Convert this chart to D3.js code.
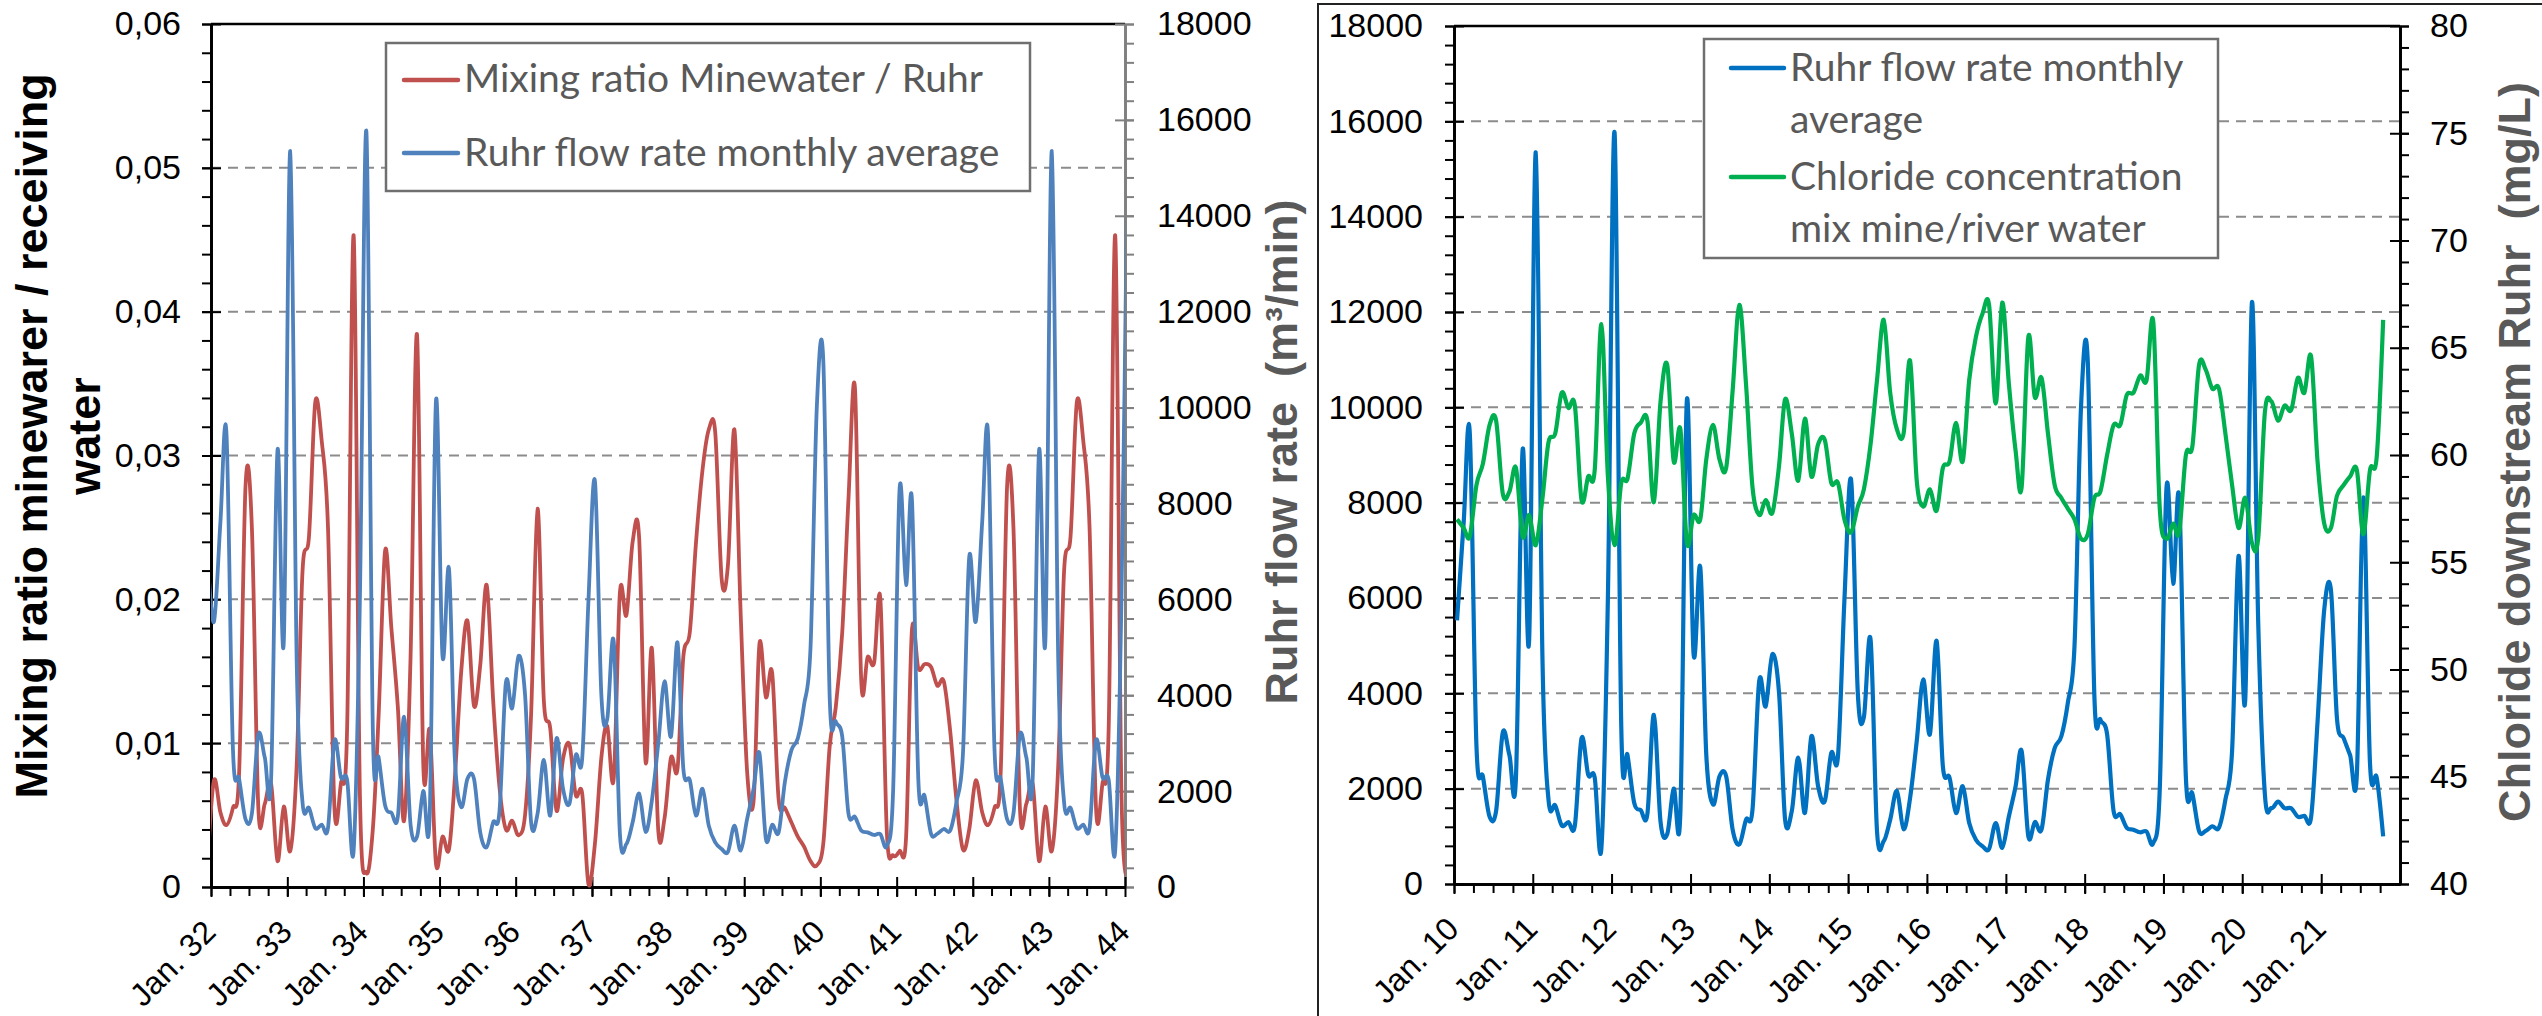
<!DOCTYPE html>
<html>
<head>
<meta charset="utf-8">
<title>Mixing ratio and chloride, Ruhr</title>
<script src="https://cdn.jsdelivr.net/npm/d3@7"></script>
<style>
  body { margin: 0; background: #fff; }
  svg { display: block; }
</style>
</head>
<body>
<div id="chart"></div>
<script>
// ---------------------------------------------------------------
// Data, one value per month
// ---------------------------------------------------------------

// left panel: Dec 2031 ... Jan 2044 (mid-month points, clipped to the axis)
const leftFirstMonth = [2031, 11];
const mixingRatio = [
  0.0015,
  0.0074, 0.0052, 0.0043, 0.0055, 0.0080, 0.0280, 0.0250, 0.0055, 0.0058, 0.0072, 0.0018, 0.0056,
  0.0025, 0.0085, 0.0220, 0.0244, 0.0337, 0.0310, 0.0250, 0.0055, 0.0072, 0.0112, 0.0453, 0.0065,
  0.0010, 0.0040, 0.0120, 0.0234, 0.0180, 0.0125, 0.0046, 0.0160, 0.0384, 0.0085, 0.0109, 0.0016,
  0.0035, 0.0026, 0.0075, 0.0150, 0.0185, 0.0126, 0.0154, 0.0210, 0.0130, 0.0070, 0.0040, 0.0046,
  0.0036, 0.0050, 0.0120, 0.0263, 0.0130, 0.0110, 0.0053, 0.0089, 0.0099, 0.0064, 0.0065, 0.0002,
  0.0030, 0.0090, 0.0112, 0.0075, 0.0205, 0.0189, 0.0240, 0.0243, 0.0087, 0.0166, 0.0039, 0.0048,
  0.0090, 0.0082, 0.0160, 0.0177, 0.0240, 0.0290, 0.0318, 0.0316, 0.0214, 0.0224, 0.0318, 0.0190,
  0.0080, 0.0060, 0.0169, 0.0132, 0.0149, 0.0061, 0.0055, 0.0045, 0.0035, 0.0028, 0.0018, 0.0015,
  0.0030, 0.0098, 0.0125, 0.0177, 0.0270, 0.0347, 0.0144, 0.0160, 0.0156, 0.0200, 0.0038, 0.0022,
  0.0025, 0.0034, 0.0178, 0.0152, 0.0155, 0.0153, 0.0140, 0.0143, 0.0108, 0.0060, 0.0026, 0.0040,
  0.0074, 0.0052, 0.0043, 0.0055, 0.0080, 0.0280, 0.0250, 0.0055, 0.0058, 0.0072, 0.0018, 0.0056,
  0.0025, 0.0085, 0.0220, 0.0244, 0.0337, 0.0310, 0.0250, 0.0055, 0.0072, 0.0112, 0.0453, 0.0065,
  0.0010
];
const ruhrFlowLeft = [
  6880,
  5530, 7600, 9470, 2900, 2250, 1410, 1530, 3180, 2700, 2230, 9110, 5110,
  15350, 4700, 1760, 1650, 1230, 1300, 1230, 3060, 2290, 2230, 760, 6000,
  15760, 3300, 2700, 1700, 1550, 1470, 3550, 1300, 1050, 2000, 1530, 10150,
  4830, 6650, 2700, 1670, 2260, 2260, 1140, 830, 1350, 1560, 4260, 3730,
  4820, 4010, 1350, 1530, 2650, 1490, 3100, 2050, 1740, 2750, 2680, 5970,
  8470, 4000, 3500, 5130, 1100, 900, 1350, 1950, 1150, 1800, 3000, 4290,
  3140, 5100, 2470, 2230, 1490, 2050, 1280, 930, 790, 735, 1280, 760,
  1420, 2050, 2790, 1000, 1300, 1140, 2190, 2850, 3100, 3800, 5000, 10000,
  11000, 3940, 3450, 3140, 1530, 1460, 1180, 1140, 1085, 1100, 860, 2000,
  8300, 6300, 8100, 2230, 1900, 1110, 1110, 1210, 1180, 1770, 2790, 6880,
  5530, 7600, 9470, 2900, 2250, 1410, 1530, 3180, 2700, 2230, 9110, 5110,
  15350, 4700, 1760, 1650, 1230, 1300, 1230, 3060, 2290, 2230, 760, 6000,
  15760
];

// right panel: Jan 2010 ... Oct 2021 (mid-month points)
const rightFirstMonth = [2010, 0];
const ruhrFlowRight = [
  5530, 7600, 9470, 2900, 2250, 1410, 1530, 3180, 2700, 2230, 9110, 5110,
  15350, 4700, 1760, 1650, 1230, 1300, 1230, 3060, 2290, 2230, 760, 6000,
  15760, 3300, 2700, 1700, 1550, 1470, 3550, 1300, 1050, 2000, 1530, 10150,
  4830, 6650, 2700, 1670, 2260, 2260, 1140, 830, 1350, 1560, 4260, 3730,
  4820, 4010, 1350, 1530, 2650, 1490, 3100, 2050, 1740, 2750, 2680, 5970,
  8470, 4000, 3500, 5130, 1100, 900, 1350, 1950, 1150, 1800, 3000, 4290,
  3140, 5100, 2470, 2230, 1490, 2050, 1280, 930, 790, 735, 1280, 760,
  1420, 2050, 2790, 1000, 1300, 1140, 2190, 2850, 3100, 3800, 5000, 10000,
  11000, 3940, 3450, 3140, 1530, 1460, 1180, 1140, 1085, 1100, 860, 2000,
  8300, 6300, 8100, 2230, 1900, 1110, 1110, 1210, 1180, 1770, 2790, 6880,
  3870, 12200, 5500, 1880, 1590, 1730, 1590, 1590, 1410, 1430, 1400, 3400,
  5760, 6170, 3470, 3060, 2700, 2290, 8110, 2530, 2230, 1000
];
const chlorideRight = [
  57.0, 56.6, 56.2, 58.6, 59.6, 61.4, 61.6, 58.2, 58.3, 59.4, 56.2, 57.2,
  55.8, 58.0, 60.6, 61.0, 62.9, 62.2, 62.3, 57.9, 59.0, 59.3, 66.1, 59.0,
  55.8, 58.7, 58.9, 61.0, 61.5, 61.6, 57.8, 62.5, 64.2, 59.7, 61.2, 55.9,
  57.2, 57.0, 59.8, 61.4, 59.8, 59.4, 63.0, 67.0, 63.3, 58.5, 57.2, 57.9,
  57.3, 59.5, 62.6, 61.0, 58.8, 61.7, 59.0, 60.5, 60.7, 58.7, 58.7, 57.0,
  56.4, 57.6, 58.4, 60.5, 63.5, 66.3, 62.9, 61.2, 61.0, 64.4, 58.8, 57.6,
  58.4, 57.4, 59.4, 59.7, 61.5, 59.7, 63.5, 65.5, 66.6, 67.0, 62.4, 67.1,
  63.3, 60.2, 58.5, 65.5, 62.7, 63.6, 61.0, 58.6, 58.0, 57.5, 57.0, 56.1,
  56.3, 58.0, 58.3, 60.0, 61.4, 61.4, 62.8, 62.9, 63.7, 63.5, 66.2, 57.5,
  56.1, 56.8, 56.4, 60.0, 60.4, 64.2, 64.0, 63.1, 63.1, 61.0, 58.6, 56.6,
  58.0, 55.9, 56.1, 62.0, 62.5, 61.6, 62.3, 62.1, 63.6, 62.9, 64.6, 59.7,
  56.8, 56.6, 58.1, 58.6, 59.0, 59.3, 56.3, 59.3, 59.9, 66.3
];

// axis ticks and labels
const leftYears = [2032, 2033, 2034, 2035, 2036, 2037, 2038, 2039, 2040, 2041, 2042, 2043, 2044];
const leftYearLabels = ["Jan. 32", "Jan. 33", "Jan. 34", "Jan. 35", "Jan. 36", "Jan. 37", "Jan. 38",
  "Jan. 39", "Jan. 40", "Jan. 41", "Jan. 42", "Jan. 43", "Jan. 44"];
const rightYears = [2010, 2011, 2012, 2013, 2014, 2015, 2016, 2017, 2018, 2019, 2020, 2021];
const rightYearLabels = ["Jan. 10", "Jan. 11", "Jan. 12", "Jan. 13", "Jan. 14", "Jan. 15",
  "Jan. 16", "Jan. 17", "Jan. 18", "Jan. 19", "Jan. 20", "Jan. 21"];
const ratioTicks = [0, 0.01, 0.02, 0.03, 0.04, 0.05, 0.06];
const ratioLabels = ["0", "0,01", "0,02", "0,03", "0,04", "0,05", "0,06"];
const flowTicks = [0, 2000, 4000, 6000, 8000, 10000, 12000, 14000, 16000, 18000];
const flowLabels = ["0", "2000", "4000", "6000", "8000", "10000", "12000", "14000", "16000", "18000"];
const chlorideTicks = [40, 45, 50, 55, 60, 65, 70, 75, 80];
const chlorideLabels = ["40", "45", "50", "55", "60", "65", "70", "75", "80"];

const legendLeft = ["Mixing ratio Minewater / Ruhr", "Ruhr flow rate monthly average"];
const legendRight = [["Ruhr flow rate monthly", "average"], ["Chloride concentration", "mix mine/river water"]];

// ---------------------------------------------------------------
// Layout
// ---------------------------------------------------------------
const W = 2542, H = 1016;
const L = { left: 211, right: 1125, top: 24, bottom: 887 };
const R = { left: 1454, right: 2400, top: 26, bottom: 884 };

const tickFont = "'Liberation Sans', Arial, sans-serif";
const legendFont = "Lato, 'Open Sans', sans-serif";
const gridColor = "#8c8c8c";

const svg = d3.select("#chart").append("svg")
  .attr("width", W).attr("height", H);
svg.append("rect").attr("width", W).attr("height", H).attr("fill", "#fff");

// scales
const xL = d3.scaleTime().domain([new Date(2032, 0, 1), new Date(2044, 0, 1)]).range([L.left, L.right]);
const yRatio = d3.scaleLinear().domain([0, 0.06]).range([L.bottom, L.top]);
const yFlowL = d3.scaleLinear().domain([0, 18000]).range([L.bottom, L.top]);

const xR = d3.scaleTime().domain([new Date(2010, 0, 1), new Date(2022, 0, 1)]).range([R.left, R.right]);
const yFlowR = d3.scaleLinear().domain([0, 18000]).range([R.bottom, R.top]);
const yCl = d3.scaleLinear().domain([40, 80]).range([R.bottom, R.top]);

function monthDates(first, n) {
  return d3.range(n).map(k => new Date(first[0], first[1] + k, 15));
}
const leftDates = monthDates(leftFirstMonth, mixingRatio.length);
const rightDates = monthDates(rightFirstMonth, ruhrFlowRight.length);

// ---------------------------------------------------------------
// helpers
// ---------------------------------------------------------------
function styleTicks(g, color, size) {
  g.selectAll(".domain").attr("stroke", color).attr("stroke-width", 2.5);
  g.selectAll(".tick line").attr("stroke", color).attr("stroke-width", 2);
  g.selectAll(".tick text").attr("fill", "#000")
    .style("font-family", tickFont).style("font-size", size + "px");
}

// y axis: outside minor ticks, crossing major ticks, labels
function yAxis(parent, scale, side, x, majors, labels, minorStep, color, pad) {
  const mk = side === "left" ? d3.axisLeft : d3.axisRight;
  const [lo, hi] = scale.domain();
  const minors = d3.range(lo, hi + minorStep / 2, minorStep);
  const g = parent.append("g").attr("transform", `translate(${x},0)`);
  g.append("g").call(mk(scale).tickValues(minors).tickSize(9).tickSizeOuter(0).tickFormat(""));
  g.append("g").call(mk(scale).tickValues(majors).tickSize(-10).tickSizeOuter(0).tickFormat(""));
  g.append("g").call(mk(scale).tickValues(majors).tickSize(9).tickSizeOuter(0)
    .tickPadding(pad).tickFormat((d, i) => labels[i]));
  styleTicks(g, color, 34);
  return g;
}

function xAxis(parent, scale, y, years, labels) {
  const [d0, d1] = scale.domain();
  const quarters = d3.timeMonth.every(3).range(d0, d1);
  const majors = years.map(yr => new Date(yr, 0, 1));
  const g = parent.append("g").attr("transform", `translate(0,${y})`);
  g.append("g").call(d3.axisBottom(scale).tickValues(quarters).tickSize(9).tickSizeOuter(0).tickFormat(""));
  g.append("g").call(d3.axisBottom(scale).tickValues(majors).tickSize(-10).tickSizeOuter(0).tickFormat(""));
  const lab = g.append("g").call(d3.axisBottom(scale).tickValues(majors).tickSize(10).tickSizeOuter(0)
    .tickFormat((d, i) => labels[i]));
  styleTicks(g, "#000", 32);
  lab.selectAll(".tick text")
    .attr("x", 0).attr("y", 0).attr("dy", null)
    .attr("text-anchor", "end")
    .attr("transform", "translate(6,47) rotate(-45)");
  return g;
}

function grid(parent, scale, values, x1, x2) {
  parent.append("g").selectAll("line").data(values).join("line")
    .attr("x1", x1).attr("x2", x2)
    .attr("y1", d => scale(d)).attr("y2", d => scale(d))
    .attr("stroke", gridColor).attr("stroke-width", 2)
    .attr("stroke-dasharray", "10,7");
}

function series(parent, dates, values, xs, ys, color, width) {
  const line = d3.line()
    .x((d, i) => xs(dates[i]))
    .y(d => ys(d))
    .curve(d3.curveCardinal);
  parent.append("path").datum(values)
    .attr("d", line)
    .attr("fill", "none")
    .attr("stroke", color)
    .attr("stroke-width", width)
    .attr("stroke-linejoin", "round");
}

function axisTitle(parent, x, y, text, color) {
  parent.append("text")
    .attr("transform", `translate(${x},${y}) rotate(-90)`)
    .attr("text-anchor", "middle")
    .style("font-family", tickFont)
    .style("font-weight", "bold")
    .style("font-size", "45px")
    .style("white-space", "pre")
    .attr("fill", color)
    .text(text);
}

function legendBox(parent, box) {
  parent.append("rect")
    .attr("x", box.x).attr("y", box.y).attr("width", box.w).attr("height", box.h)
    .attr("fill", "#fff").attr("stroke", "#6f6f6f").attr("stroke-width", 2.5);
}
function legendEntry(parent, x1, x2, ly, color, tx, lines, baselines) {
  parent.append("line")
    .attr("x1", x1).attr("x2", x2).attr("y1", ly).attr("y2", ly)
    .attr("stroke", color).attr("stroke-width", 4.5).attr("stroke-linecap", "round");
  lines.forEach((t, k) => {
    parent.append("text")
      .attr("x", tx).attr("y", baselines[k])
      .style("font-family", legendFont).style("font-size", "39px")
      .attr("fill", "#595959")
      .text(t);
  });
}

// ---------------------------------------------------------------
// Left panel
// ---------------------------------------------------------------
const gl = svg.append("g");
grid(gl, yRatio, ratioTicks.slice(1, -1), L.left, L.right);

gl.append("line").attr("x1", L.left).attr("x2", L.right).attr("y1", L.top).attr("y2", L.top)
  .attr("stroke", "#000").attr("stroke-width", 2.5);
yAxis(gl, yRatio, "left", L.left, ratioTicks, ratioLabels, 0.002, "#000", 21);
yAxis(gl, yFlowL, "right", L.right, flowTicks, flowLabels, 400, "#808080", 23);
xAxis(gl, xL, L.bottom, leftYears, leftYearLabels);

svg.append("clipPath").attr("id", "clipL").append("rect")
  .attr("x", L.left).attr("y", 0).attr("width", L.right - L.left).attr("height", H);
const plotL = gl.append("g").attr("clip-path", "url(#clipL)");
series(plotL, leftDates, mixingRatio, xL, yRatio, "#C0504D", 3.8);
series(plotL, leftDates, ruhrFlowLeft, xL, yFlowL, "#4F81BD", 3.8);

legendBox(gl, { x: 386, y: 43, w: 644, h: 148 });
legendEntry(gl, 404, 458, 80, "#C0504D", 464, [legendLeft[0]], [92]);
legendEntry(gl, 404, 458, 153, "#4F81BD", 464, [legendLeft[1]], [166]);

axisTitle(gl, 47, 436, "Mixing ratio minewarer / receiving", "#000");
axisTitle(gl, 100, 436, "water", "#000");
axisTitle(gl, 1297, 452, "Ruhr flow rate  (m\u00B3/min)", "#595959");

// ---------------------------------------------------------------
// Right panel
// ---------------------------------------------------------------
const gr = svg.append("g");
gr.append("path").attr("d", `M1318,${H} V4 H${W}`)
  .attr("fill", "none").attr("stroke", "#222").attr("stroke-width", 2);

grid(gr, yFlowR, flowTicks.slice(1, -1), R.left, R.right);
gr.append("line").attr("x1", R.left).attr("x2", R.right).attr("y1", R.top).attr("y2", R.top)
  .attr("stroke", "#000").attr("stroke-width", 2.5);
yAxis(gr, yFlowR, "left", R.left, flowTicks, flowLabels, 400, "#000", 22);
yAxis(gr, yCl, "right", R.right, chlorideTicks, chlorideLabels, 1, "#000", 21);
xAxis(gr, xR, R.bottom, rightYears, rightYearLabels);

series(gr, rightDates, ruhrFlowRight, xR, yFlowR, "#0070C0", 4.2);
series(gr, rightDates, chlorideRight, xR, yCl, "#00B050", 4.2);

legendBox(gr, { x: 1704, y: 39, w: 514, h: 219 });
legendEntry(gr, 1731, 1784, 68, "#0070C0", 1790, legendRight[0], [81, 133]);
legendEntry(gr, 1731, 1784, 177, "#00B050", 1790, legendRight[1], [190, 242]);

axisTitle(gr, 2530, 452, "Chloride downstream Ruhr  (mg/L)", "#595959");
</script>
</body>
</html>
